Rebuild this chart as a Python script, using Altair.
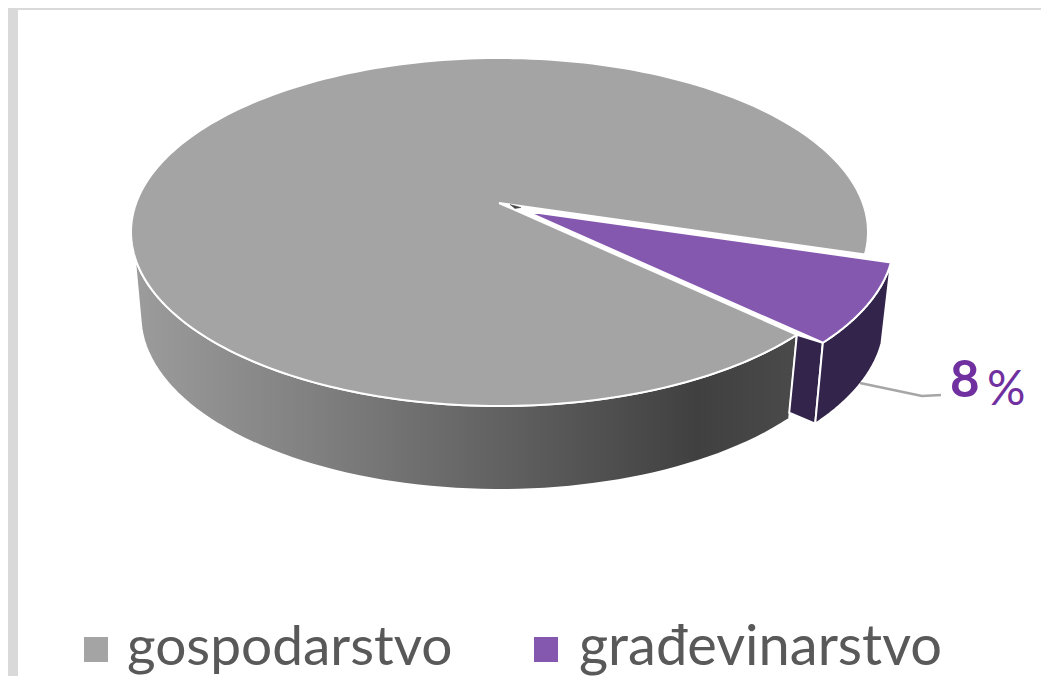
import math
import altair as alt
import pandas as pd

# --- values ---
categories = ["gospodarstvo", "građevinarstvo"]
shares = [92, 8]
top_colors = ["#a4a4a4", "#8558b0"]
wall_color = "#33244b"
label_color = "#7030a0"
legend_text_color = "#595959"
leader_x = [860, 922, 941]
leader_y = [383, 396, 395]
sliver_x = [510, 521, 515]
sliver_y = [204.5, 207.5, 208.5]

# ellipse of the pie (page px): centre, radii, apex, depth
TOP = dict(cx=499.5, cy=232, rx=368.5, ry=174)
BOT = dict(cx=499.5, cy=316, rx=359, ry=174)
APEX = (499, 203)
EXPLODE = (26, 8)
START = 7.4
LEFT_TOP, LEFT_BOT = 172, 178

XD = [8, 1041]
YD = [8, 676]
x_s = alt.Scale(domain=XD, range=[0, 1033], nice=False, zero=False)
y_s = alt.Scale(domain=YD, reverse=True, nice=False, zero=False)
X = lambda f: alt.X(f, type="quantitative", scale=x_s, axis=None)
Y = lambda f: alt.Y(f, type="quantitative", scale=y_s, axis=None)


def arc(e, a, b, dx=0, dy=0, n=70):
    out = []
    for i in range(n + 1):
        t = math.radians(a + (b - a) * i / n)
        out.append((e["cx"] + dx + e["rx"] * math.cos(t), e["cy"] + dy + e["ry"] * math.sin(t)))
    return out


def poly(pts, fill, stroke="#ffffff", sw=2.0):
    pts = list(pts) + [pts[0]]
    df = pd.DataFrame({"px": [p[0] for p in pts], "py": [p[1] for p in pts], "i": list(range(len(pts)))})
    return alt.Chart(df).mark_line(fill=fill, stroke=stroke, strokeWidth=sw, strokeJoin="round", interpolate="linear").encode(
        x=X("px"), y=Y("py"), order=alt.Order("i:Q")
    )


def rect(x0, x1, y0, y1, color):
    df = pd.DataFrame({"a": [x0], "b": [x1], "c": [y0], "d": [y1]})
    return alt.Chart(df).mark_rect(color=color).encode(
        x=X("a"), x2=alt.X2("b"), y=Y("c"), y2=alt.Y2("d")
    )


def text(x, y, s, size, color, weight="normal", align="left"):
    df = pd.DataFrame({"x": [x], "y": [y], "s": [s]})
    return alt.Chart(df).mark_text(
        font="Lato", fontSize=size, color=color, fontWeight=weight, align=align, baseline="alphabetic"
    ).encode(x=X("x"), y=Y("y"), text="s:N")


span = 360 * shares[1] / sum(shares)
t0, t1 = START, START + span
dx, dy = EXPLODE

side_grad = alt.Gradient(
    gradient="linear", x1=0, y1=0, x2=1, y2=0,
    stops=[
        alt.GradientStop(offset=0, color="#9c9c9c"),
        alt.GradientStop(offset=0.3, color="#7d7d7d"),
        alt.GradientStop(offset=0.6, color="#5c5c5c"),
        alt.GradientStop(offset=0.85, color="#404040"),
        alt.GradientStop(offset=1, color="#4a4a4a"),
    ],
)

top_t1_p = arc(TOP, t1, t1, dx, dy, 1)[0]
bot_t1_p = arc(BOT, t1, t1, dx, dy - 3, 1)[0]
gray_top_p = arc(TOP, t1, t1, 0, 0, 1)[0]
gray_bot_p = arc(BOT, t1, t1, 0, -6, 1)[0]

layers = [
    rect(8, 18, 8, 676, "#d9d9d9"),
    rect(8, 1041, 8, 10, "#d9d9d9"),
    # gray wall
    poly(arc(TOP, t1, LEFT_TOP) + arc(BOT, LEFT_BOT, t1), side_grad),
    # purple cut wall
    poly([top_t1_p, bot_t1_p, gray_bot_p, gray_top_p], wall_color),
    # purple outer wall
    poly(arc(TOP, t0, t1, dx, dy) + arc(BOT, t1, t0, dx, dy - 3), wall_color),
    # tops
    poly([APEX] + arc(TOP, t1, t0 + 360, n=240), top_colors[0]),
    poly([(APEX[0] + dx, APEX[1] + dy)] + arc(TOP, t0, t1, dx, dy), top_colors[1]),
    # dark sliver of the inner wall near the apex
    poly(list(zip(sliver_x, sliver_y)), "#454545", stroke="#454545", sw=0.5),
    # leader
    alt.Chart(pd.DataFrame({"x": leader_x, "y": leader_y, "i": [0, 1, 2]})).mark_line(
        color="#a6a6a6", strokeWidth=2.5
    ).encode(x=X("x"), y=Y("y"), order=alt.Order("i:Q")),
    text(950, 397, str(shares[1]), 51, label_color, "bold"),
    text(987, 405, "%", 48, label_color),
    # legend
    rect(84, 108, 637, 662, top_colors[0]),
    rect(534, 558, 637, 662, top_colors[1]),
    text(127, 665, categories[0], 55, legend_text_color),
    text(579, 665, categories[1], 56, legend_text_color),
]

chart = alt.layer(*layers).properties(
    width=1033, height=668, padding=0, background="#ffffff",
    autosize=alt.AutoSizeParams(type="none"),
).configure_view(stroke=None)

chart.save("out.html", embed_options={"renderer": "svg", "actions": False})
